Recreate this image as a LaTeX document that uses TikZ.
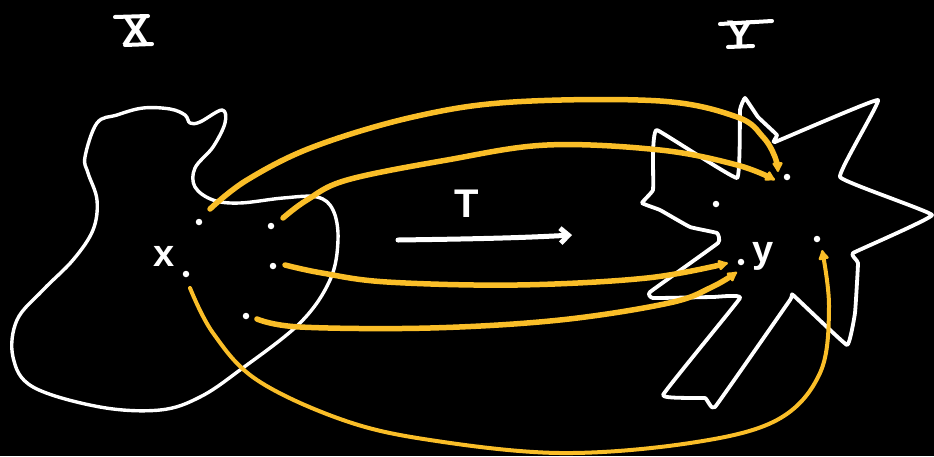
\documentclass[tikz,border=0pt]{standalone}
\usepackage{fontspec}
\setmainfont{Liberation Sans}
\usetikzlibrary{arrows.meta}
\definecolor{amber}{RGB}{250,190,40}
\begin{document}
\begin{tikzpicture}[x=1pt,y=-1pt,
  chalk/.style={white,line width=3.4pt,line cap=round,line join=round},
  bar/.style={white,line width=4pt,line cap=round},
  map/.style={amber,line width=5.5pt,line cap=round,line join=round,-{Latex[round,length=12pt,width=13pt]}},
  dotpt/.style={circle,fill=white,inner sep=0pt,minimum size=6.5pt},
  lbl/.style={text=white,inner sep=0pt}]
\fill[black] (0,0) rectangle (934,456);
\useasboundingbox (0,0) rectangle (934,456);

% set X
\draw[chalk] plot[smooth cycle,tension=0.6] coordinates {(97,123) (117,115) (143,108) (170,109) (185,115) (190,123) (200,122) (222,110) (225,123) (213,147) (195,168) (195,187) (213,200) (240,203) (283,198) (317,197) (333,210) (338,240) (330,280) (300,323) (240,370) (200,397) (160,410) (100,407) (33,387) (13,357) (17,320) (43,290) (73,260) (93,230) (97,200) (88,173) (85,157)};

% set Y
\draw[chalk,line width=3.8pt] plot[smooth cycle,tension=0.15] coordinates {(657,130) (737,178) (740,110) (745,98) (758,117) (777,135) (775,142) (878,100) (840,177) (932,215) (853,253) (858,263) (855,313) (847,345) (793,295) (790,300) (715,407) (705,398) (663,395) (740,298) (713,297) (653,298) (650,292) (718,243) (717,233) (690,227) (660,210) (642,203) (653,190) (653,153)};

% labels
\node[lbl,font=\fontsize{40}{40}\selectfont\bfseries] (lx) at (136,31) {X};
\draw[bar] (115,17) -- (148,16);
\draw[bar] (125,45) -- (152,44);
\node[lbl,font=\fontsize{40}{40}\selectfont\bfseries] (ly) at (740,35) {Y};
\draw[bar] (720,24) -- (772,21);
\draw[bar] (728,47) -- (753,46);
\node[lbl,font=\fontsize{40}{40}\selectfont\bfseries] (lt) at (467,204) {T};
\draw[white,line width=5pt,line cap=round,-{Straight Barb[length=8pt,width=15pt]}] (398,240) .. controls (470,239) and (520,238) .. (572,235);

% points in X
\node[dotpt] (p1) at (199,222) {};
\node[dotpt] (p2) at (271,226) {};
\node[dotpt] (p3) at (273,266) {};
\node[dotpt] (p4) at (246,316) {};
\node[dotpt] (p5) at (186,274) {};
\node[lbl,font=\fontsize{38}{38}\selectfont\bfseries] (sx) at (164,256) {x};

% points in Y
\node[dotpt] (q1) at (787,177) {};
\node[dotpt] (q2) at (716,204) {};
\node[dotpt] (q3) at (741,262) {};
\node[dotpt] (q4) at (817,239) {};
\node[lbl,font=\fontsize{38}{38}\selectfont\bfseries] (sy) at (763,256) {y};

% maps
\draw[map] plot[smooth,tension=0.6] coordinates {(210,209) (247,180) (313,147) (413,117) (513,102) (660,101) (737,117) (763,137) (775,157) (778,172)};
\draw[map] plot[smooth,tension=0.6] coordinates {(283,218) (307,200) (347,180) (447,160) (547,145) (660,150) (737,165) (775,180)};
\draw[map] plot[smooth,tension=0.6] coordinates {(285,265) (322,273) (387,282) (517,285) (647,278) (728,263)};
\draw[map] plot[smooth,tension=0.6] coordinates {(257,319) (300,327) (430,328) (560,320) (669,303) (712,287) (737,272)};
\draw[map,line width=4pt] plot[smooth,tension=0.6] coordinates {(190,288) (213,333) (257,380) (343,420) (430,440) (560,453) (690,443) (777,420) (820,373) (829,307) (822,250)};
\end{tikzpicture}
\end{document}
